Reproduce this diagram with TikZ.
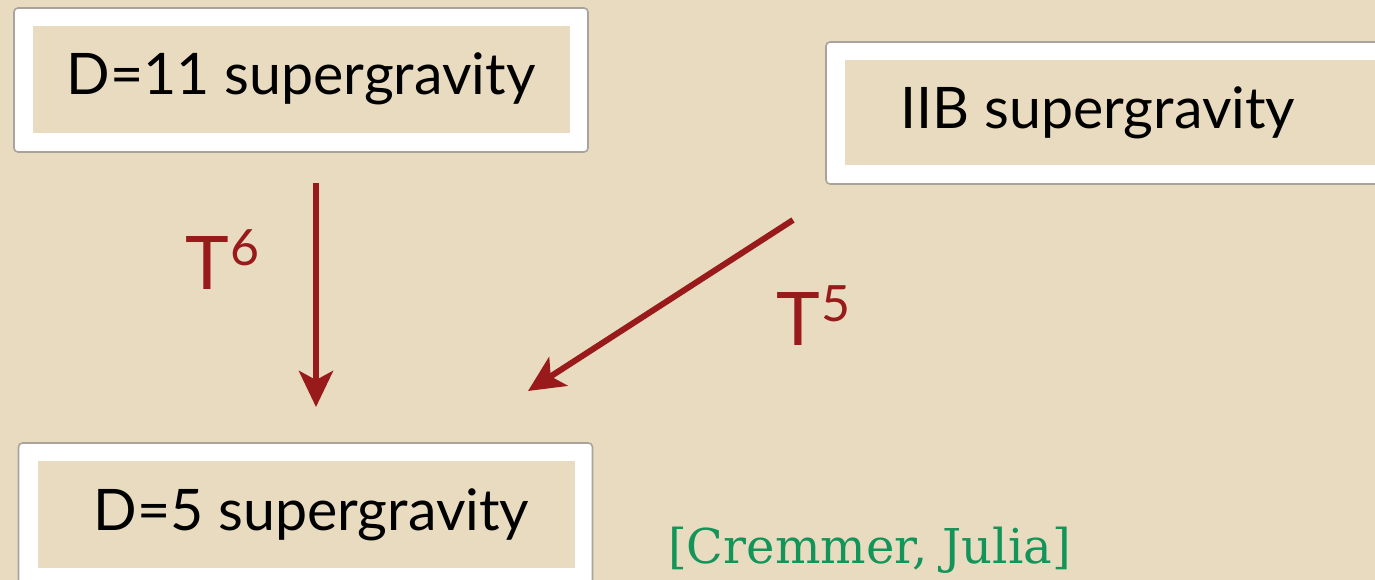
\documentclass[tikz,border=0pt]{standalone}
\usepackage{fontspec}
\setmainfont{Lato}
\newfontfamily\citefont{DejaVu Serif}
\usetikzlibrary{arrows.meta}
\definecolor{bg}{HTML}{E9DBC0}
\definecolor{arrowred}{HTML}{981A1A}
\definecolor{citegreen}{HTML}{13955A}
\definecolor{frameedge}{HTML}{A8A49C}
\tikzset{
  frame/.style={draw=frameedge, line width=1.6pt, fill=white, rounded corners=4pt,
    minimum width=574pt, minimum height=144pt, inner sep=0pt,
    path picture={\fill[bg, sharp corners] ([shift={(19pt,-18pt)}]path picture bounding box.north west)
      rectangle ([shift={(-18pt,19pt)}]path picture bounding box.south east);}},
  boxtext/.style={inner sep=0pt, font=\fontsize{57.3}{60}\selectfont, text=black},
  tlabel/.style={inner sep=0pt, font=\fontsize{74}{80}\selectfont, text=arrowred, anchor=base west},
  conv/.style={draw=arrowred, line width=6pt, -{Stealth[length=36pt, width=34pt, inset=9pt]}},
  cite/.style={inner sep=0pt, font=\citefont\fontsize{48}{52}\selectfont, text=citegreen, anchor=base west}
}
\newcommand{\suplabel}[1]{T\kern2pt\raisebox{24pt}{\fontsize{50}{54}\selectfont #1}}
\begin{document}
\begin{tikzpicture}[x=1pt,y=-1pt]
\fill[bg] (0,0) rectangle (1375,580);
\useasboundingbox (0,0) rectangle (1375,580);
% boxes
\node[frame] (b1) at (301,80) {};
\node[frame, minimum height=142pt] (b2) at (1113,113) {};
\node[frame] (b3) at (305.5,515) {};
\node[boxtext] (t1) at ([yshift=1pt]b1.center) {D=11 supergravity};
\node[boxtext] (t2) at ([xshift=-15pt]b2.center) {IIB supergravity};
\node[boxtext] (t3) at ([xshift=6pt]b3.center) {D=5 supergravity};
% arrows
\coordinate (a1s) at (316,183);
\coordinate (a1e) at (316,407);
\coordinate (a2s) at (793,220);
\coordinate (a2e) at (528,391);
\draw[conv] (a1s) -- (a1e);
\draw[conv] (a2s) -- (a2e);
\node[tlabel] (l6) at (185,289) {\suplabel{6}};
\node[tlabel] (l5) at (776,345) {\suplabel{5}};
\node[cite] (c) at (668,563) {[Cremmer, Julia]};
\end{tikzpicture}
\end{document}
